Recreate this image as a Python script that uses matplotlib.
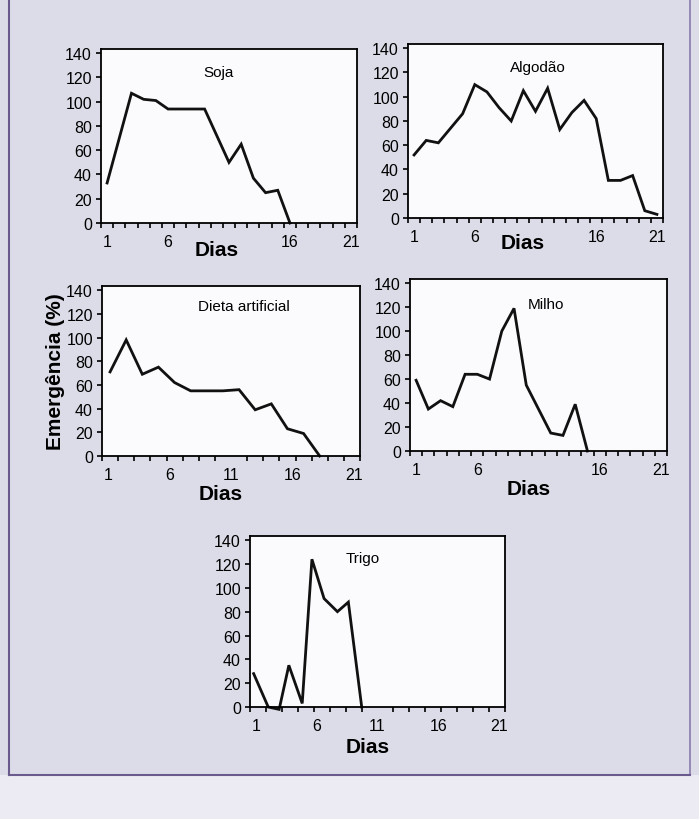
import numpy as np
import matplotlib
matplotlib.use("Agg")
import matplotlib.pyplot as plt
from matplotlib.lines import Line2D

plt.rcParams['font.family'] = ['Liberation Sans', 'DejaVu Sans']

# dados (emergencia %, por dia)
soja = [33, 70, 107, 102, 101, 94, 94, 94, 94, 72, 50, 65, 37, 25, 27, 0]
algodao = [52, 64, 62, 74, 86, 110, 104, 91, 80, 105, 88, 107, 73, 87, 97, 82,
           31, 31, 35, 6, 3]
dieta = [71, 98, 69, 75, 62, 55, 55, 55, 56, 39, 44, 23, 19, 0]
milho = [59, 35, 42, 37, 64, 64, 60, 100, 119, 55, 35, 15, 13, 39, 0]
trigo_dias = [0.8, 2.0, 2.9, 3.7, 4.8, 5.6, 6.6, 7.7, 8.6, 9.7]
trigo = [28, 0, -2, 35, 3, 124, 91, 80, 88, 0]

dias_rotulos = [1, 6, 11, 16, 21]
dias_sem_11 = [1, 6, 16, 21]
y_ticks = [0, 20, 40, 60, 80, 100, 120, 140]

W, H = 699, 820
fig = plt.figure(figsize=(W / 100, H / 100), dpi=100)
fig.patch.set_facecolor('#dcdce8')

# moldura da pagina digitalizada
fig.add_artist(plt.Rectangle((0, 0), 1, 1 - 776 / H, transform=fig.transFigure,
                             facecolor='#ecebf3', edgecolor='none'))
fig.add_artist(Line2D([9 / W, 9 / W], [1, 1 - 776 / H], transform=fig.transFigure,
                      color='#6a5a8e', lw=1.5))
fig.add_artist(Line2D([690 / W, 690 / W], [1, 1 - 776 / H], transform=fig.transFigure,
                      color='#8a7aae', lw=1.2))
fig.add_artist(Line2D([9 / W, 690 / W], [1 - 776 / H, 1 - 776 / H], transform=fig.transFigure,
                      color='#6a5a8e', lw=1.5))


def painel(px, titulo, x, y, n_cat, rotulos, pos_titulo, pos_dias):
    l, t, r, b = px
    ax = fig.add_axes([l / W, 1 - b / H, (r - l) / W, (b - t) / H])
    ax.set_facecolor('#fbfbfd')
    ax.plot(x, y, color='#111111', lw=2.0, clip_on=False, solid_joinstyle='miter')
    ax.set_xlim(0.5, 21.5)
    ax.set_ylim(0, 143.5)
    ax.set_yticks(y_ticks)
    ax.set_xticks(rotulos)
    ax.set_xticks(0.5 + np.arange(n_cat + 1) * 21 / n_cat, minor=True)
    ax.tick_params(axis='x', which='major', length=0, pad=8, labelsize=11.5)
    ax.tick_params(axis='x', which='minor', length=3.5, width=1.2, direction='out')
    ax.tick_params(axis='y', length=3.5, width=1.2, direction='out', pad=3, labelsize=11.5)
    for s in ax.spines.values():
        s.set_linewidth(1.3)
    ax.text(pos_titulo[0], pos_titulo[1], titulo, transform=ax.transAxes,
            ha='center', va='center', fontsize=11)
    ax.text(pos_dias[0], pos_dias[1], 'Dias', transform=ax.transAxes,
            ha='center', va='center', fontsize=15, fontweight='bold')
    return ax


painel((101, 50, 357, 224), 'Soja', np.arange(1, len(soja) + 1), soja, 21,
       dias_sem_11, (0.46, 0.87), (0.45, -0.15))
painel((408, 45, 663, 219), 'Algodão', np.arange(1, len(algodao) + 1), algodao, 21,
       dias_sem_11, (0.51, 0.87), (0.45, -0.14))
ax_d = painel((102, 287, 360, 457), 'Dieta artificial',
              0.5 + (np.arange(len(dieta)) + 0.5) * 21 / 16, dieta, 16,
              dias_rotulos, (0.55, 0.88), (0.46, -0.22))
ax_d.set_ylabel('Emergência (%)', fontsize=15, fontweight='bold', labelpad=1)
painel((410, 280, 667, 452), 'Milho', np.arange(1, len(milho) + 1), milho, 21,
       dias_sem_11, (0.53, 0.855), (0.46, -0.22))
painel((250, 537, 505, 708), 'Trigo', trigo_dias, trigo, 16,
       dias_rotulos, (0.44, 0.87), (0.46, -0.23))

fig.savefig('out.png', dpi=100, facecolor=fig.get_facecolor())
